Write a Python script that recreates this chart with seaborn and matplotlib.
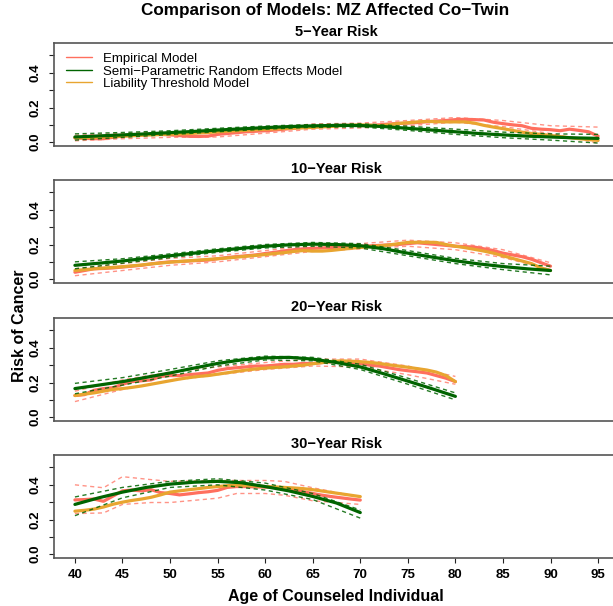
import matplotlib
matplotlib.use('Agg')
import matplotlib.pyplot as plt
from matplotlib.lines import Line2D
import seaborn as sns

# ---- data ----
panel_titles = ['5\u2212Year Risk', '10\u2212Year Risk', '20\u2212Year Risk', '30\u2212Year Risk']
age_ticks = [40, 45, 50, 55, 60, 65, 70, 75, 80, 85, 90, 95]

# 5-year risk
ages_5yr = list(range(40, 96))
emp_5yr = [0.025, 0.022, 0.020, 0.020, 0.028, 0.035, 0.040, 0.042, 0.045, 0.045,
           0.042, 0.038, 0.034, 0.033, 0.035, 0.045, 0.050, 0.055, 0.060, 0.063,
           0.066, 0.070, 0.075, 0.080, 0.085, 0.090, 0.092, 0.095, 0.097, 0.097,
           0.095, 0.097, 0.100, 0.105, 0.108, 0.110, 0.113, 0.118, 0.122, 0.125,
           0.130, 0.132, 0.130, 0.128, 0.115, 0.107, 0.100, 0.095, 0.080, 0.075,
           0.072, 0.066, 0.075, 0.068, 0.060, 0.035]
lt_5yr = [0.025, 0.027, 0.028, 0.030, 0.032, 0.035, 0.037, 0.040, 0.042, 0.044,
          0.046, 0.048, 0.050, 0.053, 0.056, 0.060, 0.063, 0.066, 0.069, 0.072,
          0.075, 0.077, 0.079, 0.081, 0.083, 0.085, 0.088, 0.091, 0.095, 0.098,
          0.100, 0.098, 0.095, 0.100, 0.108, 0.112, 0.117, 0.120, 0.118, 0.117,
          0.117, 0.117, 0.110, 0.097, 0.087, 0.078, 0.068, 0.058, 0.050, 0.045,
          0.039, 0.032, 0.026, 0.020, 0.015, 0.010]
ci_ages_5yr = [40, 45, 50, 55, 60, 65, 70, 75, 80, 85, 90, 95]
emp_hi_5yr = [0.040, 0.050, 0.060, 0.058, 0.080, 0.105, 0.110, 0.125, 0.142, 0.125, 0.095, 0.087]
emp_lo_5yr = [0.008, 0.020, 0.028, 0.030, 0.052, 0.075, 0.082, 0.095, 0.115, 0.090, 0.050, -0.005]
srem_ages_5yr = [40, 42.5, 45, 47.5, 50, 52.5, 55, 57.5, 60, 62.5, 65, 67.5,
                 70, 72.5, 75, 77.5, 80, 82.5, 85, 87.5, 90, 92.5, 95]
srem_5yr = [0.030, 0.036, 0.042, 0.048, 0.055, 0.062, 0.070, 0.077, 0.084, 0.090,
            0.094, 0.097, 0.096, 0.090, 0.080, 0.070, 0.060, 0.050, 0.042, 0.035,
            0.030, 0.025, 0.022]
srem_hi_5yr = [0.048, 0.056, 0.066, 0.080, 0.093, 0.102, 0.106, 0.092, 0.075, 0.058, 0.048, 0.045]
srem_lo_5yr = [0.012, 0.028, 0.044, 0.060, 0.075, 0.086, 0.088, 0.068, 0.045, 0.026, 0.012, -0.005]

# 10-year risk
ages_10yr = list(range(40, 91))
emp_10yr = [0.040, 0.050, 0.060, 0.062, 0.065, 0.070, 0.075, 0.080, 0.088, 0.095,
            0.100, 0.102, 0.105, 0.108, 0.110, 0.118, 0.125, 0.130, 0.135, 0.140,
            0.148, 0.155, 0.163, 0.170, 0.175, 0.178, 0.180, 0.183, 0.185, 0.188,
            0.190, 0.192, 0.195, 0.198, 0.200, 0.205, 0.210, 0.205, 0.200, 0.195,
            0.190, 0.188, 0.185, 0.175, 0.165, 0.150, 0.140, 0.130, 0.115, 0.095,
            0.075]
lt_10yr = [0.050, 0.055, 0.060, 0.064, 0.068, 0.072, 0.077, 0.082, 0.088, 0.093,
           0.098, 0.102, 0.106, 0.110, 0.114, 0.118, 0.122, 0.127, 0.132, 0.137,
           0.142, 0.148, 0.153, 0.160, 0.165, 0.162, 0.162, 0.166, 0.172, 0.178,
           0.183, 0.188, 0.192, 0.197, 0.205, 0.212, 0.213, 0.213, 0.212, 0.200,
           0.190, 0.182, 0.172, 0.162, 0.150, 0.135, 0.120, 0.105, 0.090, 0.065,
           0.050]
ci_ages_10yr = [40, 45, 50, 55, 60, 65, 70, 75, 80, 85, 90]
emp_hi_10yr = [0.060, 0.090, 0.120, 0.135, 0.165, 0.195, 0.205, 0.225, 0.210, 0.170, 0.095]
emp_lo_10yr = [0.020, 0.050, 0.080, 0.100, 0.130, 0.160, 0.175, 0.190, 0.170, 0.125, 0.055]
srem_ages_10yr = [40, 42.5, 45, 47.5, 50, 52.5, 55, 57.5, 60, 62.5, 65, 67.5,
                  70, 72.5, 75, 77.5, 80, 82.5, 85, 87.5, 90]
srem_10yr = [0.080, 0.092, 0.105, 0.120, 0.135, 0.150, 0.165, 0.178, 0.190, 0.198,
             0.202, 0.200, 0.193, 0.175, 0.150, 0.128, 0.106, 0.088, 0.073, 0.060,
             0.050]
srem_hi_10yr = [0.100, 0.118, 0.146, 0.175, 0.200, 0.212, 0.205, 0.165, 0.120, 0.090, 0.075]
srem_lo_10yr = [0.060, 0.092, 0.124, 0.155, 0.180, 0.190, 0.180, 0.135, 0.090, 0.055, 0.025]

# 20-year risk
ages_20yr = list(range(40, 81))
emp_20yr = [0.125, 0.130, 0.155, 0.165, 0.170, 0.190, 0.205, 0.210, 0.215, 0.235,
            0.240, 0.240, 0.245, 0.250, 0.255, 0.270, 0.280, 0.285, 0.290, 0.295,
            0.295, 0.300, 0.305, 0.305, 0.310, 0.310, 0.315, 0.320, 0.320, 0.315,
            0.310, 0.300, 0.295, 0.285, 0.275, 0.268, 0.262, 0.255, 0.240, 0.225,
            0.205]
lt_20yr = [0.125, 0.133, 0.140, 0.150, 0.160, 0.165, 0.172, 0.180, 0.190, 0.200,
           0.210, 0.220, 0.228, 0.235, 0.240, 0.248, 0.256, 0.264, 0.272, 0.278,
           0.283, 0.287, 0.290, 0.295, 0.300, 0.308, 0.315, 0.322, 0.325, 0.323,
           0.320, 0.316, 0.310, 0.302, 0.295, 0.288, 0.280, 0.272, 0.260, 0.240,
           0.205]
ci_ages_20yr = [40, 45, 50, 55, 60, 65, 70, 75, 80]
emp_hi_20yr = [0.150, 0.215, 0.260, 0.290, 0.315, 0.335, 0.335, 0.295, 0.235]
emp_lo_20yr = [0.090, 0.160, 0.210, 0.245, 0.275, 0.295, 0.290, 0.245, 0.190]
srem_ages_20yr = [40, 42.5, 45, 47.5, 50, 52.5, 55, 57.5, 60, 62.5, 65, 67.5,
                  70, 72.5, 75, 77.5, 80]
srem_20yr = [0.165, 0.185, 0.205, 0.230, 0.255, 0.283, 0.310, 0.330, 0.342, 0.345,
             0.335, 0.315, 0.290, 0.250, 0.208, 0.165, 0.120]
srem_hi_20yr = [0.195, 0.228, 0.275, 0.325, 0.352, 0.345, 0.305, 0.225, 0.140]
srem_lo_20yr = [0.135, 0.185, 0.237, 0.295, 0.330, 0.325, 0.275, 0.190, 0.100]

# 30-year risk
ages_30yr = list(range(40, 71))
emp_30yr = [0.313, 0.315, 0.318, 0.305, 0.335, 0.365, 0.370, 0.365, 0.372, 0.355,
            0.350, 0.342, 0.348, 0.355, 0.360, 0.368, 0.385, 0.390, 0.390, 0.388,
            0.387, 0.385, 0.380, 0.372, 0.360, 0.350, 0.340, 0.332, 0.325, 0.318,
            0.312]
lt_30yr = [0.248, 0.253, 0.260, 0.272, 0.288, 0.300, 0.310, 0.318, 0.328, 0.342,
           0.358, 0.365, 0.372, 0.378, 0.385, 0.390, 0.395, 0.398, 0.397, 0.394,
           0.390, 0.388, 0.385, 0.382, 0.378, 0.372, 0.364, 0.356, 0.348, 0.340,
           0.332]
ci_ages_30yr = [40, 43, 45, 48, 50, 55, 57, 60, 62, 65, 70]
emp_hi_30yr = [0.400, 0.383, 0.447, 0.430, 0.420, 0.425, 0.425, 0.425, 0.420, 0.383, 0.330]
emp_lo_30yr = [0.234, 0.238, 0.287, 0.298, 0.298, 0.323, 0.350, 0.350, 0.340, 0.308, 0.287]
srem_ages_30yr = [40, 42.5, 45, 47.5, 50, 52.5, 55, 57.5, 60, 62.5, 65, 67.5, 70]
srem_30yr = [0.287, 0.325, 0.358, 0.385, 0.404, 0.415, 0.420, 0.412, 0.390, 0.365,
             0.333, 0.295, 0.240]
srem_ci_ages_30yr = [40, 45, 50, 55, 60, 65, 70]
srem_hi_30yr = [0.330, 0.385, 0.420, 0.435, 0.410, 0.350, 0.255]
srem_lo_30yr = [0.222, 0.325, 0.385, 0.400, 0.370, 0.315, 0.208]

panels = [
    (ages_5yr, emp_5yr, lt_5yr, ci_ages_5yr, emp_hi_5yr, emp_lo_5yr,
     srem_ages_5yr, srem_5yr, ci_ages_5yr, srem_hi_5yr, srem_lo_5yr),
    (ages_10yr, emp_10yr, lt_10yr, ci_ages_10yr, emp_hi_10yr, emp_lo_10yr,
     srem_ages_10yr, srem_10yr, ci_ages_10yr, srem_hi_10yr, srem_lo_10yr),
    (ages_20yr, emp_20yr, lt_20yr, ci_ages_20yr, emp_hi_20yr, emp_lo_20yr,
     srem_ages_20yr, srem_20yr, ci_ages_20yr, srem_hi_20yr, srem_lo_20yr),
    (ages_30yr, emp_30yr, lt_30yr, ci_ages_30yr, emp_hi_30yr, emp_lo_30yr,
     srem_ages_30yr, srem_30yr, srem_ci_ages_30yr, srem_hi_30yr, srem_lo_30yr),
]

EMP_COL = '#FF6F5E'
SREM_COL = '#006400'
LT_COL = '#E8A530'
DASH = (0, (3, 2.5))

sns.set_theme(style='white')
plt.rcParams['font.family'] = ['Liberation Sans', 'DejaVu Sans']
plt.rcParams['axes.unicode_minus'] = True
for key in ['text.color', 'axes.labelcolor', 'xtick.color', 'ytick.color']:
    plt.rcParams[key] = 'black'

W, H = 613, 606
fig = plt.figure(figsize=(W / 100, H / 100), dpi=100)

left_px, right_px = 54, 619
tops_px = [43, 180, 318, 455]
box_h = 103

axes = []
for top in tops_px:
    ax = fig.add_axes([left_px / W, 1 - (top + box_h) / H,
                       (right_px - left_px) / W, box_h / H])
    axes.append(ax)

for i, (ax, p) in enumerate(zip(axes, panels)):
    (ages, emp, lt, ci_ages, emp_hi, emp_lo,
     s_ages, srem, s_ci_ages, s_hi, s_lo) = p

    sns.lineplot(x=ci_ages, y=emp_hi, ax=ax, color=EMP_COL, lw=1.0,
                 linestyle=DASH, alpha=0.75)
    sns.lineplot(x=ci_ages, y=emp_lo, ax=ax, color=EMP_COL, lw=1.0,
                 linestyle=DASH, alpha=0.75)
    sns.lineplot(x=ages, y=emp, ax=ax, color=EMP_COL, lw=2.3)
    sns.lineplot(x=ages, y=lt, ax=ax, color=LT_COL, lw=2.3)
    sns.lineplot(x=s_ages, y=srem, ax=ax, color=SREM_COL, lw=2.3)
    sns.lineplot(x=s_ci_ages, y=s_hi, ax=ax, color=SREM_COL, lw=1.0,
                 linestyle=DASH, alpha=0.85)
    sns.lineplot(x=s_ci_ages, y=s_lo, ax=ax, color=SREM_COL, lw=1.0,
                 linestyle=DASH, alpha=0.85)

    ax.set_xlim(37.8, 97.2)
    ax.set_ylim(-0.022, 0.572)
    ax.set_yticks([0.0, 0.1, 0.2, 0.3, 0.4, 0.5])
    ax.set_yticklabels(['0.0', '', '0.2', '', '0.4', ''], rotation=90,
                       va='center', fontsize=9.5, fontweight='bold')
    ax.tick_params(axis='y', direction='out', length=3.8, width=0.8,
                   color='#222222', pad=5, left=True)
    ax.set_xlabel('')
    ax.set_ylabel('')
    ax.set_title(panel_titles[i], fontsize=10.5, fontweight='bold', pad=5,
                 x=0.5)
    for sp in ax.spines.values():
        sp.set_color('#555555')
        sp.set_linewidth(1.2)
    if i < 3:
        ax.set_xticks([])
    else:
        ax.set_xticks(age_ticks)
        ax.set_xticklabels([str(a) for a in age_ticks], fontsize=9.5,
                           fontweight='bold')
        ax.tick_params(axis='x', direction='out', length=3.8, width=0.8,
                       color='#222222', pad=4, bottom=True)

handles = [Line2D([], [], color=EMP_COL, lw=1.0),
           Line2D([], [], color=SREM_COL, lw=1.0),
           Line2D([], [], color=LT_COL, lw=1.0)]
labels = ['Empirical Model', 'Semi\u2212Parametric Random Effects Model',
          'Liability Threshold Model']
axes[0].legend(handles, labels, loc='upper left', bbox_to_anchor=(0.021, 0.905),
               frameon=False, fontsize=9.5, borderpad=0, borderaxespad=0,
               handlelength=2.0, handletextpad=0.85, labelspacing=0.02)

fig.text(325 / W, 1 - 11 / H, 'Comparison of Models: MZ Affected Co\u2212Twin',
         ha='center', va='center', fontsize=12.3, fontweight='bold')
fig.text(336 / W, 1 - 596 / H, 'Age of Counseled Individual',
         ha='center', va='center', fontsize=11.5, fontweight='bold')
fig.text(20 / W, 1 - 326 / H, 'Risk of Cancer', rotation=90,
         ha='center', va='center', fontsize=11.5, fontweight='bold')

fig.savefig('out.png', dpi=100)
